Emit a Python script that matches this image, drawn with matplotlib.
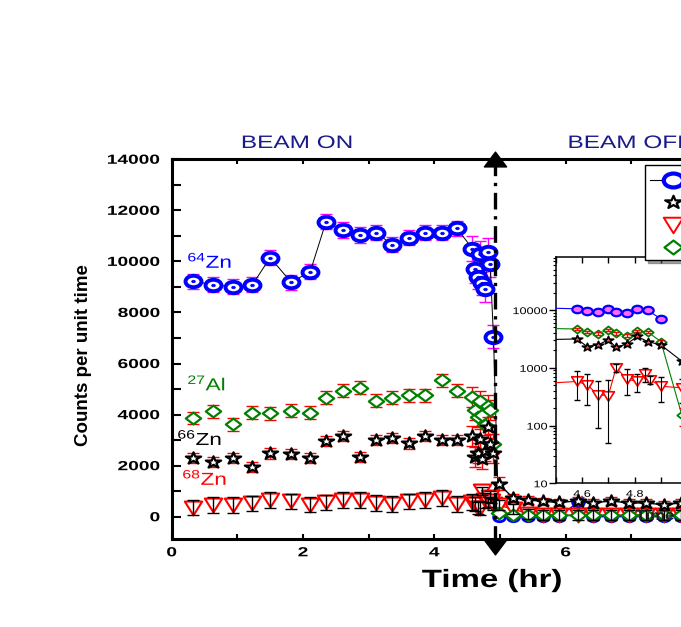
import numpy as np
import matplotlib
matplotlib.use('Agg')
import matplotlib.pyplot as plt
from matplotlib.path import Path
from matplotlib.transforms import Affine2D
from matplotlib.patheffects import AbstractPathEffect
from matplotlib.lines import Line2D
from matplotlib.ticker import MultipleLocator, LogLocator, FuncFormatter, NullFormatter

plt.rcParams['font.family'] = ['Liberation Sans', 'DejaVu Sans']
plt.rcParams['mathtext.fontset'] = 'custom'
plt.rcParams['mathtext.rm'] = 'Liberation Sans'
plt.rcParams['mathtext.default'] = 'regular'

# ---- data ----
# beam-on period
t_on = [0.33, 0.63, 0.93, 1.23, 1.50, 1.82, 2.11, 2.35, 2.61, 2.87, 3.11, 3.36, 3.62,
        3.86, 4.11, 4.34, 4.58, 4.62, 4.66, 4.70, 4.73, 4.77, 4.81, 4.85, 4.90]
zn64_on = [9220, 9090, 9010, 9090, 10150, 9180, 9600, 11550, 11230, 11040, 11130, 10650, 10930,
           11130, 11130, 11300, 10500, 9700, 9400, 10300, 9150, 8900, 10350, 9900, 7050]
zn64_err_on = [300, 300, 300, 300, 300, 300, 300, 300, 300, 300, 300, 300, 300,
               300, 300, 300, 500, 550, 500, 500, 450, 500, 550, 500, 450]
al27_on = [3870, 4130, 3620, 4080, 4050, 4150, 4080, 4670, 4930, 5060, 4540, 4670, 4760,
           4760, 5340, 4930, 4700, 4170, 3900, 4520, 3970, 3600, 4350, 4170, 2850]
al27_err_on = [250, 250, 250, 250, 250, 250, 250, 250, 250, 250, 250, 250, 250,
               250, 250, 250, 400, 400, 400, 400, 400, 400, 400, 400, 400]
zn66_on = [2290, 2130, 2290, 1960, 2480, 2460, 2290, 2960, 3160, 2350, 3000, 3070, 2870,
           3160, 3000, 3000, 3160, 2330, 2490, 3040, 2270, 2570, 3500, 2850, 2490]
zn66_err_on = [200, 200, 200, 200, 200, 200, 200, 200, 200, 200, 200, 200, 200,
               200, 200, 200, 400, 400, 400, 400, 400, 400, 400, 400, 400]
t68_on = [0.33, 0.63, 0.93, 1.23, 1.50, 1.82, 2.11, 2.35, 2.61, 2.87, 3.11, 3.36, 3.62,
          3.86, 4.11, 4.34, 4.58, 4.62, 4.66, 4.70, 4.73, 4.77, 4.81, 4.84, 4.86, 4.90]
zn68_on = [360, 455, 455, 520, 660, 600, 470, 560, 660, 650, 540, 500, 600,
           650, 730, 500, 580, 510, 340, 330, 1010, 640, 580, 790, 620, 480]
zn68_err_on = [300, 300, 300, 300, 300, 300, 300, 300, 300, 300, 300, 300, 300,
               300, 300, 300, 300, 280, 250, 280, 150, 300, 200, 220, 100, 220]

# beam-off period
t_off = [4.98, 5.20, 5.43, 5.66, 5.90, 6.18, 6.42, 6.69, 6.96, 7.22, 7.49, 7.75, 8.02]
zn64_off = [0, 0, 0, 0, 0, 560, 0, 0, 0, 0, 0, 0, 0]
zn64_err_off = [150, 150, 150, 150, 150, 150, 150, 150, 150, 150, 150, 150, 150]
al27_off = [150, 60, 50, 50, 50, 50, 50, 50, 50, 50, 50, 50, 50]
al27_err_off = [100, 100, 100, 100, 100, 100, 100, 100, 100, 100, 100, 100, 100]
zn66_off = [1300, 730, 660, 600, 560, 620, 540, 620, 540, 540, 470, 540, 540]
zn66_err_off = [250, 150, 150, 150, 150, 150, 150, 150, 150, 150, 150, 150, 150]
zn68_off = [450, 300, 120, 60, 60, 60, 60, 60, 60, 60, 60, 60, 60]
zn68_err_off = [200, 200, 200, 200, 200, 200, 200, 200, 200, 200, 200, 200, 200]

beam_off = 4.93
labels = ['$^{64}$Zn', '$^{66}$Zn', '$^{68}$Zn', '$^{27}$Al']

BLUE, MAG, GREEN, RED, NAVY = '#0000ff', '#ff00ff', '#008000', '#ff0000', '#1a1a8c'


class Widen(AbstractPathEffect):
    """stretch text horizontally, the Origin export has wide lettering"""
    def __init__(self, sx, anchor='center'):
        super().__init__()
        self.sx = sx
        self.anchor = anchor

    def draw_path(self, renderer, gc, tpath, affine, rgbFace=None):
        bb = tpath.get_extents(affine)
        x0 = {'left': bb.x0, 'right': bb.x1, 'center': 0.5 * (bb.x0 + bb.x1)}[self.anchor]
        affine = affine + Affine2D().translate(-x0, 0).scale(self.sx, 1).translate(x0, 0)
        renderer.draw_path(gc, tpath, affine, rgbFace)


# marker shapes (slightly wide like the original)
ring = Path.unit_circle().transformed(Affine2D().scale(1.4, 1.0))
diamond = Path([(0, 1), (1.3, 0), (0, -1), (-1.3, 0), (0, 1)], closed=True)
tri_down = Path([(-1.25, 1), (1.25, 1), (0, -1), (-1.25, 1)], closed=True)
star = Path.unit_regular_star(5, 0.381966).transformed(Affine2D().scale(1.3, 1.0))
arrow_up = Path([(-1.5, -1), (1.5, -1), (0, 1), (-1.5, -1)], closed=True)
arrow_down = Path([(-1.5, 1), (1.5, 1), (0, -1), (-1.5, 1)], closed=True)

fig = plt.figure(figsize=(6.81, 6.27), dpi=100)
ax_in = fig.add_axes([0.816, 0.2292, 0.2703, 0.3604])
ax = fig.add_axes([0.2521, 0.1404, 0.9643, 0.6056])
ax.patch.set_visible(False)

# ---- main panel ----
# 64Zn
ax.errorbar(t_on, zn64_on, yerr=zn64_err_on, fmt='none', ecolor=MAG, elinewidth=1,
            capsize=4, capthick=1, zorder=2)
ax.plot(t_on + t_off[:1], zn64_on + zn64_off[:1], color='black', lw=0.7, zorder=2.1)
ax.plot(t_on, zn64_on, ls='none', marker=ring, ms=11.5, mec=BLUE, mfc='white', mew=2.8, zorder=3)
ax.plot(t_on, zn64_on, ls='none', marker=ring, ms=2.6, mec=BLUE, mfc=BLUE, mew=0.5, zorder=3.1)
ax.plot(t_off, zn64_off, color=BLUE, lw=1, marker=ring, ms=8.5, mec=BLUE, mfc='white',
        mew=2, zorder=2.8)

# 27Al
ax.errorbar(t_on, al27_on, yerr=al27_err_on, fmt='none', ecolor=RED, elinewidth=1,
            capsize=4, capthick=1, zorder=2)
ax.plot(t_on, al27_on, ls='none', marker=diamond, ms=11, mec=GREEN, mfc='white', mew=1.6, zorder=3)
ax.plot(t_off, al27_off, color=GREEN, lw=1.2, marker=diamond, ms=11, mec=GREEN, mfc='white',
        mew=1.6, zorder=3.5)

# 68Zn (bars drawn above the open triangles)
ax.plot(t68_on, zn68_on, ls='none', marker=tri_down, ms=12.5, mec=RED, mfc='white', mew=1.5, zorder=3)
ax.plot(t_off, zn68_off, color=RED, lw=1, marker=tri_down, ms=12.5, mec=RED, mfc='white',
        mew=1.5, zorder=3.2)
ax.errorbar(t68_on + t_off, zn68_on + zn68_off, yerr=zn68_err_on + zn68_err_off, fmt='none',
            ecolor='black', elinewidth=1, capsize=4, capthick=1, zorder=4)

# 66Zn
ax.errorbar(t_on + t_off, zn66_on + zn66_off, yerr=zn66_err_on + zn66_err_off, fmt='none',
            ecolor=RED, elinewidth=1, capsize=4, capthick=1, zorder=4.5)
ax.plot(t_off, zn66_off, color='black', lw=1, zorder=4.6)
ax.plot(t_on + t_off, zn66_on + zn66_off, ls='none', marker=star, ms=11, mec='black',
        mfc='white', mew=1.6, zorder=5)

# beam-off marker line with arrow heads
tr = ax.get_xaxis_transform()
ax.plot([beam_off, beam_off], [1.0, -0.024], transform=tr, color='black', lw=2.4,
        ls=(0, (5, 2, 1, 2)), clip_on=False, zorder=6)
ax.plot([beam_off], [1.0], transform=tr, marker=arrow_up, ms=16, color='black',
        clip_on=False, zorder=7)
ax.plot([beam_off], [-0.022], transform=tr, marker=arrow_down, ms=16, color='black',
        clip_on=False, zorder=7)

ax.set_xlim(0, 10)
ax.set_ylim(-870, 14000)
ax.xaxis.set_major_locator(MultipleLocator(2))
ax.xaxis.set_minor_locator(MultipleLocator(1))
ax.yaxis.set_major_locator(MultipleLocator(2000))
ax.yaxis.set_minor_locator(MultipleLocator(1000))
ax.tick_params(which='both', direction='in', width=1.5, labelsize=9.5)
ax.tick_params(axis='y', which='both', length=6.5, pad=8.4, right=False)
ax.tick_params(axis='x', which='both', length=3.5, pad=6, top=True)
for s in ax.spines.values():
    s.set_linewidth(2.2)
for lbl in ax.get_yticklabels():
    lbl.set_fontweight('bold')
    lbl.set_path_effects([Widen(1.45, 'right')])
for lbl in ax.get_xticklabels():
    lbl.set_fontweight('bold')
    lbl.set_path_effects([Widen(1.45)])

# species labels
for x, y, txt, c in [(0.24, 9750, labels[0], BLUE), (0.24, 4950, labels[3], GREEN),
                     (0.087, 2810, labels[1], 'black'), (0.163, 1250, labels[2], RED)]:
    ax.text(x, y, txt, color=c, fontsize=12.5, ha='left', va='baseline',
            path_effects=[Widen(1.3, 'left')], zorder=8)

fig.text(297 / 681, 1 - 148 / 627, 'BEAM ON', color=NAVY, fontsize=13, ha='center',
         va='baseline', path_effects=[Widen(1.35)])
fig.text(568 / 681, 1 - 148 / 627, 'BEAM OFF', color=NAVY, fontsize=13, ha='left',
         va='baseline', path_effects=[Widen(1.35, 'left')])
fig.text(492 / 681, 1 - 587 / 627, 'Time (hr)', fontsize=18, fontweight='bold', ha='center',
         va='baseline', path_effects=[Widen(1.32)])
fig.text(84 / 681, 1 - 355 / 627, 'Counts per unit time', fontsize=13.5, fontweight='bold',
         rotation=90, ha='center', va='center')

# ---- inset (log scale close-up of the beam-off moment) ----
t_all = np.array(t_on + t_off)
t68_all = np.array(t68_on + t_off)
ax_in.set_yscale('log', nonpositive='mask')
ax_in.errorbar(t_all, zn64_on + zn64_off, yerr=zn64_err_on + zn64_err_off, fmt='none',
               ecolor=MAG, elinewidth=0.8, capsize=2.5, zorder=2)
ax_in.plot(t_all, zn64_on + zn64_off, color=BLUE, lw=0.8, marker=ring, ms=7.5, mec=BLUE,
           mfc='#ff66ff', mew=1.6, zorder=3)
ax_in.plot(t_all, al27_on + al27_off, color=GREEN, lw=0.8, marker=diamond, ms=7.5, mec=GREEN,
           mfc='white', mew=1.3, zorder=3)
ax_in.errorbar(t_all, al27_on + al27_off, yerr=[e * 0.5 for e in al27_err_on + al27_err_off],
               fmt='none', ecolor=RED, elinewidth=0.8, capsize=2.5, zorder=3.2)
ax_in.plot(t_all, zn66_on + zn66_off, color='black', lw=0.8, marker=star, ms=7.5, mec='black',
           mfc='#ff5050', mew=1.2, zorder=3.5)
ax_in.plot(t68_all, zn68_on + zn68_off, color=RED, lw=0.8, marker=tri_down, ms=8.5, mec=RED,
           mfc='white', mew=1.2, zorder=3)
ax_in.errorbar(t68_all, zn68_on + zn68_off, yerr=zn68_err_on + zn68_err_off, fmt='none',
               ecolor='black', elinewidth=0.8, capsize=2.5, zorder=3.6)

ax_in.set_xlim(4.5, 5.2)
ax_in.set_ylim(10, 8.2e4)
ax_in.xaxis.set_major_locator(MultipleLocator(0.2))
ax_in.xaxis.set_minor_locator(MultipleLocator(0.1))
ax_in.xaxis.set_major_formatter(FuncFormatter(lambda v, p: f'{v:g}'))
ax_in.yaxis.set_major_locator(LogLocator(base=10))
ax_in.yaxis.set_minor_locator(LogLocator(base=10, subs=np.arange(2, 10)))
ax_in.yaxis.set_major_formatter(FuncFormatter(lambda v, p: f'{v:g}'))
ax_in.yaxis.set_minor_formatter(NullFormatter())
ax_in.tick_params(axis='y', which='major', direction='out', length=5, width=1, pad=1, labelsize=7)
ax_in.tick_params(axis='y', which='minor', direction='out', length=2.5, width=0.8)
ax_in.tick_params(axis='x', which='both', direction='in', length=4, width=1, top=True,
                  pad=4, labelsize=7)
for s in ax_in.spines.values():
    s.set_linewidth(1.1)
for lbl in ax_in.get_yticklabels():
    lbl.set_path_effects([Widen(1.3, 'right')])
for lbl in ax_in.get_xticklabels():
    lbl.set_path_effects([Widen(1.3)])
# inset x label, it sits among the main-panel points
fig.text(655 / 681, 1 - 516 / 627, 'Time', fontsize=10.5, fontweight='bold',
         color='#202020', ha='center', va='center', path_effects=[Widen(1.15)])

# ---- legend (box runs off the right edge) ----
handles = [
    Line2D([], [], color='black', lw=0.8, marker=ring, ms=14, mec=BLUE, mfc='white', mew=3),
    Line2D([], [], ls='none', marker=star, ms=12, mec='black', mfc='white', mew=1.6),
    Line2D([], [], ls='none', marker=tri_down, ms=14, mec=RED, mfc='white', mew=1.4),
    Line2D([], [], ls='none', marker=diamond, ms=13, mec=GREEN, mfc='white', mew=1.6),
]
fig.legend(handles, [labels[0], labels[1], labels[2], labels[3]], loc='upper left',
           bbox_to_anchor=(645 / 681, 1 - 165 / 627), borderaxespad=0, fancybox=False,
           edgecolor='black', shadow=True, fontsize=11, handlelength=3, labelspacing=0.25,
           borderpad=0.3, handletextpad=0.5, framealpha=1)

plt.savefig('out.png', dpi=100)
